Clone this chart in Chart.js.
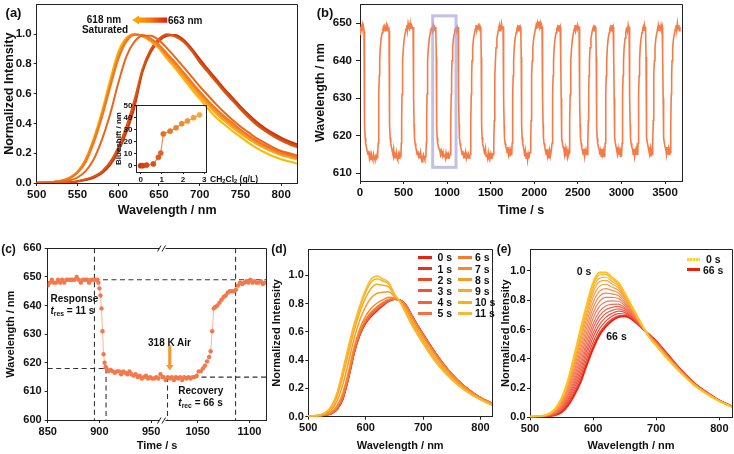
<!DOCTYPE html>
<html><head><meta charset="utf-8">
<script src="https://cdn.jsdelivr.net/npm/chart.js@4.4.1/dist/chart.umd.min.js"></script>
<style>
html,body{margin:0;padding:0;background:#fff;}
#page{position:relative;width:734px;height:454px;overflow:hidden;background:#fff;font-family:"Liberation Sans",Arial,sans-serif;font-weight:bold;color:#111;}
canvas{position:absolute;left:-30px;top:-30px;width:794px;height:514px;}
.t{position:absolute;white-space:nowrap;line-height:1;}
.t sub{font-size:68%;vertical-align:-0.25em;line-height:0;}
.sw{position:absolute;height:3px;}
</style></head><body><div id="page">
<canvas id="ca" width="794" height="514"></canvas>
<canvas id="cai" width="794" height="514"></canvas>
<canvas id="cb" width="794" height="514"></canvas>
<canvas id="cc" width="794" height="514"></canvas>
<canvas id="cd" width="794" height="514"></canvas>
<canvas id="ce" width="794" height="514"></canvas>
</div>
<script>
// ================= DATA =================
// (a) emission spectra, wavelength grid (nm)
const A_NM = [500,510,520,530,540,550,560,570,580,590,600,610,620,630,640,650,660,670,680,690,700,710,720,730,740,750,760,770,780,790,800,810,820];
const aOr1 = [0.002,0.002,0.004,0.008,0.017,0.037,0.080,0.160,0.290,0.460,0.670,0.850,0.950,0.990,0.990,0.960,0.905,0.845,0.780,0.715,0.650,0.590,0.530,0.475,0.425,0.380,0.340,0.300,0.270,0.240,0.215,0.200,0.185];
const aOr2 = [0.002,0.003,0.006,0.013,0.030,0.068,0.140,0.270,0.440,0.640,0.830,0.950,0.995,0.995,0.970,0.930,0.870,0.810,0.745,0.680,0.615,0.555,0.500,0.450,0.405,0.360,0.320,0.285,0.255,0.228,0.205,0.190,0.175];
const aOr3 = [0.002,0.003,0.006,0.014,0.032,0.072,0.150,0.285,0.455,0.655,0.845,0.960,1.000,0.990,0.962,0.920,0.860,0.800,0.735,0.670,0.605,0.545,0.490,0.440,0.395,0.352,0.313,0.278,0.248,0.222,0.200,0.185,0.170];
const aOr4 = [0.002,0.003,0.007,0.015,0.034,0.076,0.155,0.290,0.460,0.665,0.855,0.965,1.000,0.988,0.958,0.912,0.850,0.788,0.722,0.656,0.592,0.532,0.477,0.428,0.383,0.341,0.303,0.269,0.240,0.215,0.193,0.178,0.163];
const aOr5 = [0.002,0.003,0.007,0.015,0.034,0.075,0.155,0.290,0.460,0.665,0.860,0.970,1.000,0.985,0.952,0.905,0.842,0.778,0.712,0.646,0.582,0.522,0.467,0.418,0.373,0.332,0.295,0.262,0.233,0.208,0.187,0.172,0.158];
const aSat = [0.002,0.003,0.006,0.013,0.030,0.070,0.160,0.300,0.480,0.690,0.880,0.975,1.000,0.990,0.955,0.905,0.835,0.770,0.700,0.630,0.565,0.500,0.440,0.395,0.350,0.310,0.270,0.235,0.205,0.180,0.160,0.145,0.130];
const aDark1 = [0.001,0.001,0.002,0.003,0.005,0.010,0.020,0.035,0.065,0.120,0.210,0.340,0.510,0.750,0.880,0.955,0.990,0.995,0.965,0.905,0.835,0.765,0.700,0.635,0.575,0.515,0.460,0.410,0.370,0.335,0.305,0.280,0.260];
const aDark2 = [0.001,0.001,0.002,0.003,0.005,0.011,0.022,0.040,0.070,0.130,0.225,0.360,0.530,0.760,0.890,0.960,0.995,0.990,0.955,0.895,0.820,0.755,0.690,0.625,0.565,0.505,0.450,0.400,0.360,0.325,0.295,0.270,0.250];
const aDark3 = [0.001,0.001,0.002,0.003,0.006,0.012,0.025,0.045,0.078,0.140,0.240,0.380,0.560,0.770,0.900,0.970,1.000,0.985,0.950,0.890,0.810,0.745,0.680,0.615,0.555,0.495,0.440,0.390,0.350,0.315,0.285,0.260,0.240];
const A_TICKS_X = [500,550,600,650,700,750,800];
const A_TICKS_Y = [0,0.2,0.4,0.6,0.8,1.0];
const A_ARROW = [617, 660, 1.095]; // arrow from 663 nm to 618 nm (x-range, y level)
// (a) inset: blueshift vs CH2Cl2 concentration
const INSET_X = [0,0.1,0.28,0.6,0.84,0.95,1.07,1.39,1.67,1.94,2.21,2.5,2.78];
const INSET_Y = [0,0,0.5,1.4,7,10.5,26.5,28.8,31.6,35,37.3,40,42.4];
const INSET_TICKS_X = [0,1,2,3];
const INSET_TICKS_Y = [0,10,20,30,40,50];

// (b) cycling: [time s, wavelength nm]
const B_POINTS = [
[0,647],[3,649],[8,648],[14,649],[20,648.5],[27,649.5],[34,648],[40,649],
[43,649],[46,648],[49,641],[52,630],[55,623],[59,619.5],[66,618],[74,617],
[82,616],[92,615],[100,616],[108,614],[116,615],[124,613.5],[132,615],[140,614],[148,613.5],[156,615],[164,614],[172,613.5],[180,614.5],[188,614],[196,615],[201,614],
[205,615],[209,618],[213,624],[217,631],[221,636],[226,640],[233,643.5],[243,646],[255,647.5],
[263,648.5],[270,649],[278,648],[286,649],[294,648.5],[302,649.5],[310,648],[318,649],[325,648.5],
[330,649],[333,648],[336,641],[339,630],[342,623],[346,619.5],[353,618],[361,617],
[369,616],[378,615],[386,616.5],[394,614.5],[402,615],[410,614],[418,615.5],[426,614],[434,613.5],[442,615],[450,614],[458,615],[465,614.5],
[470,615],[474,618],[478,624],[482,631],[486,636],[491,640],[498,643.5],[508,646],[520,647.5],
[528,648.5],[536,649.5],[544,648],[552,650],[560,649],[568,648.5],[576,650],[584,648.5],[592,649.5],[600,649],[606,648.5],
[609,649],[612,648],[615,641],[618,630],[621,623],[625,619.5],[632,618],[640,617],
[648,616],[656,615],[664,616],[672,614.5],[680,615],[688,614],[696,615.5],[704,614],[712,613],[720,614.5],[728,615],[736,614],[744,613.5],[751,614.5],
[757,615],[761,618],[765,624],[769,631],[773,636],[778,640],[785,643.5],[795,646],[807,647.5],
[815,648.5],[823,649],[831,648],[839,649.5],[847,648.5],[855,649],[863,648],
[869,649],[872,648],[875,641],[878,630],[881,623],[885,619.5],[892,618],[900,617],
[908,616.5],[916,616],[924,615],[932,616],[940,615],[948,614.5],[956,615.5],[964,614.5],[972,615],[980,614],[988,615.5],[996,614.5],[1004,615],[1012,614],[1020,615],[1028,614.5],
[1035,615],[1039,618],[1043,624],[1047,631],[1051,636],[1056,640],[1063,643.5],[1073,646],[1085,647.5],
[1093,648.5],[1101,649],[1109,648],[1117,649],[1123,648.5],
[1125,649],[1128,648],[1131,641],[1134,630],[1137,623],[1141,619.5],[1148,618],[1156,617],
[1164,616],[1172,615],[1180,616],[1188,614.5],[1196,615],[1204,614],[1212,615.5],[1220,614],[1228,615],[1236,614],[1244,615],[1252,614],[1259,614.5],
[1265,615],[1269,618],[1273,624],[1277,631],[1281,636],[1286,640],[1293,643.5],[1303,646],[1315,647.5],
[1323,648.5],[1331,649.5],[1339,648],[1347,649],[1355,648.5],[1363,650],[1371,648.5],[1379,649],
[1385,649],[1388,648],[1391,641],[1394,630],[1397,623],[1401,619.5],[1408,618],[1416,617],
[1424,616],[1432,615],[1440,616.5],[1448,614.5],[1456,615],[1464,614],[1472,615.5],[1480,614],[1488,613.5],[1496,615],[1504,614],[1512,615.5],[1520,614.5],[1527,615],
[1533,615],[1537,618],[1541,624],[1545,631],[1549,636],[1554,640],[1561,643.5],[1571,646],[1583,647.5],
[1591,648.5],[1599,649.5],[1607,648],[1615,649],[1623,650],[1631,648.5],[1638,649],
[1642,649],[1645,648],[1648,641],[1651,630],[1654,623],[1658,619.5],[1665,618],[1673,617],
[1681,616.5],[1689,615.5],[1697,617],[1705,615],[1713,616],[1721,614.5],[1729,616],[1736,615],
[1742,615.5],[1746,618],[1750,624],[1754,631],[1758,636],[1763,640],[1770,643.5],[1780,646],[1792,647.5],
[1800,648.5],[1808,649],[1816,648],[1824,649.5],[1832,648.5],[1840,649],
[1844,649],[1847,648],[1850,641],[1853,630],[1856,623],[1860,619.5],[1867,618],[1875,617],
[1883,616],[1891,614.5],[1899,616],[1907,614],[1915,615.5],[1923,613.5],[1931,615],[1939,614],[1947,615.5],
[1955,615.5],[1959,618],[1963,624],[1967,631],[1971,636],[1976,640],[1983,643.5],[1993,646],[2005,647.5],
[2013,648.5],[2021,649.5],[2029,648.5],[2037,650],[2045,649],[2053,650.5],[2061,649],[2069,650],[2077,648.5],[2084,649.5],
[2089,649],[2092,648],[2095,641],[2098,630],[2101,623],[2105,619.5],[2112,618],[2120,617],
[2128,616],[2136,615],[2144,616.5],[2152,614.5],[2160,615.5],[2168,614],[2176,616],[2184,614.5],[2192,615.5],
[2200,615.5],[2204,618],[2208,624],[2212,631],[2216,636],[2221,640],[2228,643.5],[2238,646],[2250,647.5],
[2258,648.5],[2266,649],[2274,648],[2282,649.5],[2290,648.5],[2297,649],
[2300,649],[2303,648],[2306,641],[2309,630],[2312,623],[2316,619.5],[2323,618],[2331,617],
[2339,616.5],[2347,615],[2355,616.5],[2363,614.5],[2371,616],[2379,614.5],[2387,616],[2394,615],
[2400,615.5],[2404,618],[2408,624],[2412,631],[2416,636],[2421,640],[2428,643.5],[2438,646],[2450,647.5],
[2458,648.5],[2466,649.5],[2474,648],[2482,649],[2490,648.5],[2498,649.5],[2506,648.5],[2512,649],
[2514,649],[2517,648],[2520,641],[2523,630],[2526,623],[2530,619.5],[2537,618],[2545,617],
[2553,616],[2561,615],[2569,616.5],[2577,614.5],[2585,616],[2593,615],[2601,616],[2606,615],
[2612,615.5],[2616,618],[2620,624],[2624,631],[2628,636],[2633,640],[2640,643.5],[2650,646],[2662,647.5],
[2670,648.5],[2678,649],[2686,648],[2694,649.5],[2702,648.5],
[2705,649],[2708,648],[2711,641],[2714,630],[2717,623],[2721,619.5],[2728,618],[2736,617],
[2744,616.5],[2752,615],[2760,616],[2768,614.5],[2776,616.5],[2784,615],[2792,616],[2800,614.5],[2805,615.5],
[2810,615.5],[2814,618],[2818,624],[2822,631],[2826,636],[2831,640],[2838,643.5],[2848,646],[2860,647.5],
[2866,648.5],[2874,649],[2882,648],[2890,649.5],[2898,648.5],[2905,649],
[2908,649],[2911,648],[2914,641],[2917,630],[2920,623],[2924,619.5],[2931,618],[2939,617],
[2947,616],[2955,615],[2963,616.5],[2971,615],[2979,616],[2987,614.5],[2995,616],
[3003,615.5],[3007,618],[3011,624],[3015,631],[3019,636],[3024,640],[3031,643.5],[3041,646],[3050,647.5],
[3056,648.5],[3063,649],[3070,648],[3077,649.5],[3084,648.5],
[3088,649],[3091,648],[3094,641],[3097,630],[3100,623],[3104,619.5],[3111,618],[3119,617],
[3127,616.5],[3135,615],[3143,616.5],[3151,614.5],[3159,616],[3167,615],[3175,616.5],[3181,615],
[3187,615.5],[3191,618],[3195,624],[3199,631],[3203,636],[3208,640],[3215,643.5],[3225,646],[3236,647.5],
[3243,648.5],[3250,649],[3257,648],[3264,649.5],[3271,648.5],
[3276,649],[3279,648],[3282,641],[3285,630],[3288,623],[3292,619.5],[3299,618],[3307,617],
[3315,616],[3323,615],[3331,616.5],[3339,614.5],[3347,616],[3352,615],
[3357,615.5],[3361,618],[3365,624],[3369,631],[3373,636],[3378,640],[3385,643.5],[3395,646],[3407,647.5],
[3415,648.5],[3423,649.5],[3431,648],[3439,649],[3447,648.5],[3455,649.5],[3462,648.5],[3468,649],
[3470,649],[3473,648],[3476,641],[3479,630],[3482,623],[3486,619.5],[3493,618],[3501,617],
[3509,616.5],[3517,615],[3525,617],[3533,615],[3541,616.5],[3549,615],[3554,616],
[3560,615.5],[3564,618],[3568,624],[3572,631],[3576,636],[3581,640],[3588,643.5],[3598,646],[3610,647.5],
[3618,648.5],[3626,649.5],[3634,648],[3642,650],[3650,648.5],[3658,649.5],[3666,648],[3672,649]
];
const B_TICKS_X = [0,500,1000,1500,2000,2500,3000,3500];
const B_TICKS_Y = [610,620,630,640,650];
const B_BOX = [834, 1102, 611.6, 652]; // highlighted window: t0, t1, nm0, nm1

// (c) zoomed cycle, broken time axis
const C_T1 = [850,852,854,856,858,860,862,864,866,868,870,872,874,876,878,880,882,884,886,888,890,892,894,896,898,899,900,901,902,903,904,905,906,907,909,911,913,915,917,919,921,923,925,927,929,931,933,935,937,939,941,943,945,947,949,951,953,955,957,959,961];
const C_N1 = [647,648,649,648,648,649,648,649,648,649,649,649,649,649,650,649,648,649,649,649,648,649,649,649,649,648,646,643.5,639,631,623,620,618.5,618,617,617.5,617,616.5,617,617,616,617,616.5,616,617,616,615.5,616,615,615.5,614.5,615,615.5,614.5,615,614.5,614.5,615,614.5,616,615];
const C_T2 = [1017,1019,1021,1023,1025,1027,1029,1031,1033,1035,1037,1039,1041,1043,1045,1047,1049,1051,1053,1055,1057,1059,1061,1062.5,1064,1065.5,1067,1069,1071,1073,1075,1077,1079,1081,1083,1085,1087,1089,1091,1093,1095,1097,1099,1101,1103,1105,1107,1109,1111,1113,1115];
const C_N2 = [615,614,615,614.5,615,614,615,614.5,615,614,615,614.5,615,614.5,615,615,615.5,617,617,618,619,620.5,622,624,631,639,639.5,640,641,642,643,643.5,644.5,645,645,645,645.5,647,648,647.5,648,648.5,648,649,648,648.5,648,648,648.5,647.5,648];
const C_TICKS_X = [850,900,950,1050,1100];
const C_TICKS_Y = [600,610,620,630,640,650,660];
const C_BREAK = [961, 1016];       // omitted time interval on the axis
const C_RES = [895.2, 906.4];      // response start / end (11 s)
const C_REC = [1020.8, 1086.6];    // recovery start / end (66 s)
const C_LEVELS = [649, 618, 615];  // guide levels (nm)
const C_AIR_ARROW = [1023, 626, 617.3];

// (d) response spectra
const E_NM = [500,510,520,530,540,550,560,570,580,590,600,610,620,630,640,650,660,670,680,690,700,720,740,760,780,800,820];
const D_LABELS = ['0 s','1 s','2 s','3 s','4 s','5 s','6 s','7 s','8 s','9 s','10 s','11 s'];
const d00 = [0.003,0.004,0.006,0.012,0.020,0.050,0.120,0.270,0.450,0.580,0.660,0.710,0.750,0.785,0.815,0.830,0.825,0.790,0.720,0.650,0.585,0.460,0.350,0.260,0.190,0.135,0.095];
const d01 = [0.003,0.004,0.006,0.012,0.021,0.052,0.123,0.273,0.453,0.583,0.664,0.714,0.754,0.788,0.817,0.831,0.825,0.789,0.719,0.649,0.584,0.459,0.349,0.259,0.190,0.135,0.095];
const d02 = [0.003,0.004,0.006,0.013,0.022,0.054,0.126,0.277,0.456,0.586,0.667,0.718,0.757,0.791,0.819,0.831,0.825,0.788,0.718,0.648,0.583,0.458,0.349,0.259,0.189,0.135,0.095];
const d03 = [0.003,0.004,0.006,0.013,0.022,0.055,0.129,0.280,0.459,0.589,0.671,0.722,0.761,0.794,0.821,0.832,0.824,0.787,0.717,0.647,0.582,0.457,0.348,0.258,0.189,0.134,0.094];
const d04 = [0.003,0.004,0.006,0.013,0.023,0.057,0.133,0.284,0.463,0.593,0.674,0.726,0.765,0.796,0.823,0.832,0.824,0.786,0.716,0.646,0.581,0.456,0.347,0.258,0.189,0.134,0.094];
const d05 = [0.003,0.004,0.006,0.013,0.024,0.060,0.137,0.288,0.467,0.597,0.679,0.731,0.770,0.800,0.826,0.833,0.824,0.785,0.714,0.644,0.579,0.455,0.346,0.257,0.188,0.134,0.094];
const d06 = [0.003,0.004,0.007,0.014,0.027,0.064,0.145,0.298,0.475,0.605,0.689,0.742,0.779,0.808,0.831,0.835,0.823,0.783,0.712,0.642,0.577,0.452,0.344,0.256,0.187,0.133,0.093];
const d07 = [0.003,0.005,0.007,0.016,0.032,0.076,0.166,0.321,0.496,0.626,0.713,0.768,0.804,0.827,0.845,0.839,0.822,0.777,0.705,0.635,0.570,0.446,0.339,0.252,0.185,0.132,0.092];
const d08 = [0.004,0.006,0.009,0.021,0.048,0.110,0.225,0.385,0.555,0.685,0.780,0.843,0.873,0.880,0.883,0.850,0.818,0.760,0.685,0.615,0.550,0.428,0.325,0.243,0.178,0.128,0.088];
const d09 = [0.005,0.006,0.011,0.026,0.062,0.141,0.280,0.445,0.610,0.740,0.842,0.911,0.936,0.929,0.918,0.860,0.814,0.744,0.667,0.597,0.532,0.411,0.312,0.233,0.171,0.124,0.084];
const d10 = [0.005,0.007,0.012,0.029,0.071,0.160,0.313,0.482,0.643,0.773,0.881,0.954,0.975,0.960,0.939,0.867,0.811,0.735,0.656,0.586,0.521,0.400,0.304,0.228,0.167,0.121,0.081];
const d11 = [0.005,0.007,0.012,0.030,0.075,0.170,0.330,0.500,0.660,0.790,0.900,0.975,0.995,0.975,0.950,0.870,0.810,0.730,0.650,0.580,0.515,0.395,0.300,0.225,0.165,0.120,0.080];
const DE_TICKS_X = [500,600,700,800];
const DE_TICKS_Y = [0,0.2,0.4,0.6,0.8,1.0];

// (e) recovery spectra, 0 s ... 66 s
const e00 = [0.005,0.006,0.010,0.025,0.060,0.130,0.250,0.420,0.600,0.770,0.920,0.990,0.990,0.955,0.920,0.850,0.770,0.690,0.610,0.540,0.490,0.390,0.300,0.220,0.160,0.110,0.070];
const e01 = [0.005,0.006,0.010,0.024,0.058,0.126,0.243,0.409,0.586,0.754,0.902,0.973,0.975,0.943,0.911,0.844,0.766,0.688,0.610,0.541,0.491,0.391,0.301,0.221,0.160,0.110,0.070];
const e02 = [0.005,0.006,0.010,0.023,0.056,0.121,0.235,0.396,0.568,0.733,0.880,0.951,0.957,0.928,0.899,0.836,0.761,0.686,0.609,0.542,0.493,0.393,0.302,0.221,0.161,0.110,0.070];
const e03 = [0.005,0.006,0.009,0.022,0.053,0.116,0.225,0.380,0.546,0.709,0.853,0.926,0.935,0.911,0.885,0.826,0.756,0.683,0.609,0.543,0.495,0.395,0.303,0.222,0.162,0.111,0.071];
const e04 = [0.005,0.006,0.009,0.021,0.050,0.109,0.213,0.361,0.521,0.680,0.821,0.895,0.909,0.890,0.868,0.815,0.749,0.679,0.608,0.544,0.497,0.397,0.304,0.223,0.162,0.111,0.071];
const e05 = [0.004,0.005,0.009,0.020,0.047,0.102,0.199,0.339,0.492,0.647,0.785,0.861,0.879,0.867,0.850,0.802,0.742,0.675,0.607,0.546,0.499,0.399,0.306,0.225,0.163,0.112,0.072];
const e06 = [0.004,0.005,0.008,0.019,0.043,0.094,0.185,0.317,0.463,0.614,0.749,0.827,0.849,0.843,0.831,0.789,0.734,0.671,0.606,0.548,0.501,0.401,0.308,0.226,0.164,0.112,0.072];
const e07 = [0.004,0.005,0.008,0.017,0.039,0.086,0.172,0.296,0.434,0.581,0.713,0.792,0.820,0.819,0.812,0.776,0.726,0.667,0.605,0.549,0.504,0.404,0.309,0.227,0.165,0.112,0.072];
const e08 = [0.004,0.005,0.007,0.016,0.036,0.079,0.158,0.274,0.406,0.549,0.677,0.758,0.790,0.796,0.793,0.764,0.719,0.663,0.605,0.551,0.506,0.406,0.311,0.228,0.165,0.113,0.073];
const e09 = [0.004,0.005,0.007,0.014,0.032,0.071,0.145,0.253,0.377,0.516,0.641,0.723,0.761,0.772,0.774,0.751,0.711,0.659,0.604,0.552,0.509,0.409,0.312,0.229,0.166,0.113,0.073];
const e10 = [0.004,0.004,0.007,0.013,0.029,0.064,0.133,0.234,0.352,0.487,0.610,0.693,0.735,0.751,0.758,0.740,0.704,0.656,0.603,0.554,0.511,0.411,0.314,0.230,0.167,0.113,0.073];
const e11 = [0.003,0.004,0.006,0.012,0.026,0.058,0.121,0.215,0.326,0.458,0.578,0.663,0.709,0.731,0.741,0.728,0.698,0.652,0.602,0.555,0.513,0.413,0.315,0.231,0.168,0.114,0.074];
const e12 = [0.003,0.004,0.006,0.011,0.023,0.051,0.109,0.196,0.301,0.430,0.547,0.633,0.683,0.710,0.725,0.717,0.691,0.649,0.602,0.557,0.515,0.415,0.317,0.232,0.168,0.114,0.074];
const e13 = [0.003,0.004,0.006,0.010,0.020,0.045,0.097,0.177,0.276,0.401,0.515,0.603,0.657,0.690,0.709,0.706,0.685,0.645,0.601,0.558,0.517,0.417,0.318,0.234,0.169,0.115,0.075];
const e14 = [0.003,0.004,0.005,0.009,0.017,0.039,0.087,0.161,0.254,0.376,0.488,0.577,0.635,0.672,0.694,0.696,0.679,0.642,0.600,0.559,0.519,0.419,0.319,0.234,0.170,0.115,0.075];
const e15 = [0.003,0.004,0.005,0.008,0.015,0.035,0.080,0.150,0.240,0.360,0.470,0.560,0.620,0.660,0.685,0.690,0.675,0.640,0.600,0.560,0.520,0.420,0.320,0.235,0.170,0.115,0.075];
const E_LABELS = ['0 s','66 s'];

// ================= STYLE / LAYOUT =================
const FONT = '"Liberation Sans", Arial, sans-serif';
Chart.defaults.font.family = FONT;
Chart.defaults.font.weight = 'bold';
Chart.defaults.color = '#111';
Chart.defaults.animation = false;
Chart.defaults.responsive = false;
Chart.defaults.devicePixelRatio = 1;
Chart.defaults.events = [];
Chart.defaults.plugins.legend.display = false;
Chart.defaults.plugins.tooltip.enabled = false;

const OFF = 30, CW = 794, CH = 514;
const AX = '#222';
function pad(p, wy, hx) { return {left: p.l + OFF - wy, top: p.t + OFF, right: CW - (p.r + OFF), bottom: CH - (p.b + OFF) - hx}; }
function scale(o) {
  return {
    type: 'linear', position: o.pos, min: o.min, max: o.max,
    afterBuildTicks: s => { s.ticks = o.ticks.map(v => ({value: v})); },
    afterFit: s => { if (o.pos === 'bottom') s.height = o.size; else s.width = o.size; },
    grid: {display: true, drawOnChartArea: false, drawTicks: true, tickLength: o.tl, color: AX, lineWidth: 1},
    border: {display: true, color: AX, width: 1},
    ticks: {font: {size: o.fs, weight: 'bold', family: FONT}, color: '#111', padding: o.tp, maxRotation: 0, minRotation: 0, autoSkip: false, callback: o.fmt || (v => String(v))},
    title: {display: !!o.title, text: o.title || '', font: {size: o.tfs, weight: 'bold', family: FONT}, color: '#111', padding: 0}
  };
}
const al = v => Math.round(v - 0.5) + 0.5;
const framePlugin = { id: 'frame', afterDraw(c) {
  const a = c.chartArea, ctx = c.ctx;
  ctx.save(); ctx.strokeStyle = AX; ctx.lineWidth = 1; ctx.beginPath();
  ctx.moveTo(al(a.left), al(a.top)); ctx.lineTo(al(a.right), al(a.top)); ctx.lineTo(al(a.right), al(a.bottom));
  ctx.stroke(); ctx.restore();
}};
const toXY = (xs, ys) => xs.map((x, i) => ({x, y: ys[i]}));
const f1 = v => v.toFixed(1);

// ---------- (a) ----------
const PA = {l: 36.7, t: 4.5, r: 297.5, b: 183};
const A_SERIES = [[aOr1,'#e9661a'],[aOr2,'#f0781e'],[aOr3,'#f58a22'],[aOr4,'#f99c25'],[aOr5,'#fcab22'],[aSat,'#ffb800'],[aDark3,'#dc5412'],[aDark2,'#d2440f'],[aDark1,'#c5350c']];
const aArrow = { id: 'aArrow', afterDatasetsDraw(c) {
  const xs = c.scales.x, ys = c.scales.y, ctx = c.ctx;
  const x0 = xs.getPixelForValue(A_ARROW[0]), x1 = xs.getPixelForValue(A_ARROW[1]), y = ys.getPixelForValue(A_ARROW[2]);
  const g = ctx.createLinearGradient(x0, 0, x1, 0); g.addColorStop(0, '#ffb300'); g.addColorStop(0.5, '#f77a10'); g.addColorStop(1, '#e41c0c');
  ctx.save(); ctx.fillStyle = g; ctx.beginPath();
  ctx.moveTo(x0, y); ctx.lineTo(x0 + 7, y - 4.5); ctx.lineTo(x0 + 7, y - 2.6); ctx.lineTo(x1, y - 2.6); ctx.lineTo(x1, y + 2.6); ctx.lineTo(x0 + 7, y + 2.6); ctx.lineTo(x0 + 7, y + 4.5);
  ctx.closePath(); ctx.fill(); ctx.restore();
}};
new Chart(document.getElementById('ca'), {
  type: 'line',
  data: {datasets: A_SERIES.map(([v, col]) => ({data: toXY(A_NM, v), borderColor: col, borderWidth: 2, pointRadius: 0, cubicInterpolationMode: 'monotone', fill: false}))},
  options: {layout: {padding: pad(PA, 34.2, 35)},
    scales: {
      x: scale({pos: 'bottom', min: 500, max: 820, ticks: A_TICKS_X, tl: 3, tp: 2, fs: 11.5, title: 'Wavelength / nm', tfs: 12.5, size: 35}),
      y: scale({pos: 'left', min: 0, max: 1.2, ticks: A_TICKS_Y, tl: 3, tp: 2, fs: 11.5, fmt: f1, title: 'Normalized Intensity', tfs: 12.5, size: 34.2})
    }},
  plugins: [framePlugin, aArrow]
});
// inset
const PI = {l: 136, t: 105, r: 206.5, b: 172};
const insetColors = INSET_X.map((_, i) => { const f = i / (INSET_X.length - 1); const r = Math.round(208 + f * (247 - 208)), g = Math.round(52 + f * (168 - 52)), b = Math.round(14 + f * (58 - 14)); return `rgb(${r},${g},${b})`; });
new Chart(document.getElementById('cai'), {
  type: 'line',
  data: {datasets: [{data: toXY(INSET_X, INSET_Y), borderColor: '#f08a52', borderWidth: 1.2, pointRadius: 2.6, pointBackgroundColor: insetColors, pointBorderColor: insetColors, pointBorderWidth: 0.5, tension: 0}]},
  options: {layout: {padding: pad(PI, 22, 12)},
    scales: {
      x: scale({pos: 'bottom', min: -0.22, max: 3.11, ticks: INSET_TICKS_X, tl: 2, tp: 1, fs: 8, size: 12}),
      y: scale({pos: 'left', min: -5.3, max: 50.6, ticks: INSET_TICKS_Y, tl: 2, tp: 1.5, fs: 8, title: 'Blueshift / nm', tfs: 8, size: 22})
    }},
  plugins: [framePlugin]
});

// ---------- (b) ----------
const PB = {l: 360, t: 4.3, r: 682, b: 181};
const bBox = { id: 'bBox', afterDatasetsDraw(c) {
  const xs = c.scales.x, ys = c.scales.y, ctx = c.ctx;
  const x0 = xs.getPixelForValue(B_BOX[0]), x1 = xs.getPixelForValue(B_BOX[1]);
  const y0 = ys.getPixelForValue(B_BOX[2]), y1 = ys.getPixelForValue(B_BOX[3]);
  ctx.save(); ctx.strokeStyle = 'rgba(160,160,218,0.65)'; ctx.lineWidth = 3; ctx.strokeRect(x0, y1, x1 - x0, y0 - y1); ctx.restore();
}};
new Chart(document.getElementById('cb'), {
  type: 'line',
  data: {datasets: [{data: B_POINTS.map(p => ({x: p[0], y: p[1]})), borderColor: '#f57b47', borderWidth: 1.6, pointRadius: 0, tension: 0}]},
  options: {layout: {padding: pad(PB, 46.5, 37.5)},
    scales: {
      x: scale({pos: 'bottom', min: 0, max: 3695, ticks: B_TICKS_X, tl: 3, tp: 2, fs: 11.5, title: 'Time / s', tfs: 12.5, size: 37.5}),
      y: scale({pos: 'left', min: 607.95, max: 655.07, ticks: B_TICKS_Y, tl: 4, tp: 4, fs: 11.5, title: 'Wavelength / nm', tfs: 12.5, size: 46.5})
    }},
  plugins: [framePlugin, bBox]
});

// ---------- (c) ----------
const PC = {l: 47.7, t: 248.3, r: 266.5, b: 420};
const GAP = C_BREAK[1] - C_BREAK[0];
const cAxis = t => (t > C_BREAK[0] ? t - GAP : t);          // axis position of a time value
const cLabel = v => String(v > C_BREAK[0] ? v + GAP : v);    // tick label of an axis position
const cGuides = { id: 'cGuides', beforeDatasetsDraw(c) {
  const xs = c.scales.x, ys = c.scales.y, ctx = c.ctx, a = c.chartArea;
  const X = t => xs.getPixelForValue(cAxis(t)), Y = v => ys.getPixelForValue(v);
  ctx.save(); ctx.strokeStyle = '#333'; ctx.lineWidth = 1.1; ctx.setLineDash([5, 3.5]);
  const seg = (x0, y0, x1, y1) => { ctx.beginPath(); ctx.moveTo(x0, y0); ctx.lineTo(x1, y1); ctx.stroke(); };
  seg(X(C_RES[0]), Y(C_LEVELS[0]), a.right, Y(C_LEVELS[0]));
  seg(a.left, Y(C_LEVELS[1]), X(C_RES[1]), Y(C_LEVELS[1]));
  seg(X(C_REC[0]), Y(C_LEVELS[2]), a.right, Y(C_LEVELS[2]));
  seg(X(C_RES[0]), a.top, X(C_RES[0]), a.bottom);
  seg(X(C_RES[1]), Y(C_LEVELS[1]), X(C_RES[1]), a.bottom);
  seg(X(C_REC[0]), Y(C_LEVELS[2]), X(C_REC[0]), a.bottom);
  seg(X(C_REC[1]), a.top, X(C_REC[1]), a.bottom);
  ctx.restore();
}, afterDraw(c) {
  const xs = c.scales.x, ys = c.scales.y, ctx = c.ctx, a = c.chartArea;
  const px = xs.getPixelForValue(C_BREAK[0]);
  ctx.save();
  for (const y of [al(a.top), al(a.bottom)]) {
    ctx.fillStyle = '#fff'; ctx.fillRect(px - 3, y - 1.5, 6, 3);
    ctx.strokeStyle = AX; ctx.lineWidth = 1; ctx.beginPath();
    ctx.moveTo(px - 5, y + 3); ctx.lineTo(px - 1.5, y - 3); ctx.moveTo(px - 0.5, y + 3); ctx.lineTo(px + 3, y - 3); ctx.stroke();
  }
  // 318 K air arrow
  const ax = xs.getPixelForValue(cAxis(C_AIR_ARROW[0])), y0 = ys.getPixelForValue(C_AIR_ARROW[1]), y1 = ys.getPixelForValue(C_AIR_ARROW[2]);
  ctx.fillStyle = '#f39a38'; ctx.fillRect(ax - 1.6, y0, 3.2, y1 - y0 - 5);
  ctx.beginPath(); ctx.moveTo(ax - 3.8, y1 - 5.5); ctx.lineTo(ax + 3.8, y1 - 5.5); ctx.lineTo(ax, y1); ctx.closePath(); ctx.fill();
  ctx.restore();
}};
const cStyle = {borderColor: 'rgba(244,122,74,0.55)', borderWidth: 1, pointRadius: 2.2, pointBackgroundColor: '#f4784a', pointBorderWidth: 0, tension: 0};
new Chart(document.getElementById('cc'), {
  type: 'line',
  data: {datasets: [
    Object.assign({data: C_T1.map((t, i) => ({x: cAxis(t), y: C_N1[i]}))}, cStyle),
    Object.assign({data: C_T2.map((t, i) => ({x: cAxis(t), y: C_N2[i]}))}, cStyle)
  ]},
  options: {layout: {padding: pad(PC, 43.5, 32.1)},
    scales: {
      x: scale({pos: 'bottom', min: 850, max: cAxis(1116.5), ticks: C_TICKS_X.map(cAxis), tl: 3, tp: 2, fs: 11, fmt: cLabel, title: 'Time / s', tfs: 11, size: 32.1}),
      y: scale({pos: 'left', min: 600, max: 660, ticks: C_TICKS_Y, tl: 3, tp: 3, fs: 11, title: 'Wavelength / nm', tfs: 11, size: 43.5})
    }},
  plugins: [framePlugin, cGuides]
});

// ---------- (d) ----------
const PD = {l: 308.3, t: 249, r: 492, b: 416.7};
const D_SERIES = [d00, d01, d02, d03, d04, d05, d06, d07, d08, d09, d10, d11];
const D_COLORS = ['#e8230f','#eb2e14','#ed4526','#ef5532','#f0643a','#f2723e','#f47b32','#f68a2a','#f89b2e','#faa922','#fbb20c','#f9b83a'];
new Chart(document.getElementById('cd'), {
  type: 'line',
  data: {datasets: D_SERIES.map((v, i) => ({label: D_LABELS[i], data: toXY(E_NM, v), borderColor: D_COLORS[i], borderWidth: 1.5, pointRadius: 0, cubicInterpolationMode: 'monotone'})).reverse()},
  options: {layout: {padding: pad(PD, 37.9, 35.6)},
    scales: {
      x: scale({pos: 'bottom', min: 500, max: 820, ticks: DE_TICKS_X, tl: 3, tp: 2, fs: 11, title: 'Wavelength / nm', tfs: 11, size: 35.6}),
      y: scale({pos: 'left', min: 0, max: 1.186, ticks: DE_TICKS_Y, tl: 3, tp: 1.5, fs: 11, fmt: f1, title: 'Normalized Intensity', tfs: 11, size: 37.9})
    }},
  plugins: [framePlugin]
});

// ---------- (e) ----------
const PE = {l: 530, t: 249, r: 732, b: 417.3};
const E_SERIES = [e00, e01, e02, e03, e04, e05, e06, e07, e08, e09, e10, e11, e12, e13, e14, e15];
const E_COLORS = ['#ffc21c','#fbb630','#f9ad38','#f7a43f','#f69b45','#f5924b','#f48950','#f38054','#f27757','#f16e56','#f06450','#ef5a48','#ee4f3e','#ee4332','#ef3522','#f01e0a'];
new Chart(document.getElementById('ce'), {
  type: 'line',
  data: {datasets: E_SERIES.map((v, i) => ({data: toXY(E_NM, v), borderColor: E_COLORS[i], borderWidth: (i === 0 || i === E_SERIES.length - 1) ? 2 : 1.2, pointRadius: 0, cubicInterpolationMode: 'monotone'}))},
  options: {layout: {padding: pad(PE, 30.6, 35)},
    scales: {
      x: scale({pos: 'bottom', min: 500, max: 820, ticks: DE_TICKS_X, tl: 3, tp: 2, fs: 11, title: 'Wavelength / nm', tfs: 11, size: 35}),
      y: scale({pos: 'left', min: 0, max: 1.15, ticks: DE_TICKS_Y, tl: 3, tp: 1.5, fs: 11, fmt: f1, title: 'Normalized Intensity', tfs: 11, size: 30.6})
    }},
  plugins: [framePlugin]
});

// ================= TEXT / LEGENDS =================
const page = document.getElementById('page');
function addText(html, x, y, size, anchor) {
  const d = document.createElement('div'); d.className = 't'; d.innerHTML = html;
  d.style.fontSize = size + 'px'; d.style.left = x + 'px'; d.style.top = y + 'px';
  d.style.transform = anchor === 'l' ? 'translate(0,-50%)' : 'translate(-50%,-50%)';
  page.appendChild(d); return d;
}
function addSwatch(x0, x1, y, col, dashed) {
  const s = document.createElement('div'); s.className = 'sw';
  s.style.left = x0 + 'px'; s.style.width = (x1 - x0) + 'px'; s.style.top = (y - 1.5) + 'px';
  if (dashed) { s.style.background = 'repeating-linear-gradient(90deg,' + col + ' 0 2px, #ffe9a8 2px 3px)'; } else { s.style.background = col; }
  page.appendChild(s);
}
addText('(a)', 13.5, 12.3, 13);
addText('(b)', 325, 12.3, 13);
addText('(c)', 8.5, 249, 12);
addText('(d)', 279, 249, 12);
addText('(e)', 504, 249, 12);
addText('618 nm', 104, 20, 10);
addText('Saturated', 105, 30, 10);
addText('663 nm', 168, 20.7, 10, 'l');
addText('CH<sub>2</sub>Cl<sub>2</sub> (g/L)', 210, 179, 8.5, 'l');
addText('Response', 50.5, 299.3, 10, 'l');
addText('<i>t</i><sub>res</sub> = 11 s', 50.5, 311, 10, 'l');
addText('318 K Air', 169.5, 342.7, 10);
addText('Recovery', 178.3, 390.7, 10, 'l');
addText('<i>t</i><sub>rec</sub> = 66 s', 178.3, 402.5, 10, 'l');
addText('0 s', 584, 270.7, 10.5);
addText('66 s', 616.5, 336, 10.5);
// legend (d)
const LROW = [257.3, 268.5, 279.7, 290.9, 302.1, 313.3];
D_LABELS.forEach((lab, i) => {
  const col = i < 6 ? 0 : 1, r = i % 6;
  const sx = col ? 458 : 418;
  addSwatch(sx, sx + 14, LROW[r], D_COLORS[i]);
  addText(lab, col ? 475 : 437.5, LROW[r], 10.5, 'l');
});
// legend (e)
addSwatch(687, 700, 259, '#ffcf3a', true);
addText(E_LABELS[0], 706, 259, 10.5, 'l');
addSwatch(687, 700, 269.3, E_COLORS[E_COLORS.length - 1]);
addText(E_LABELS[1], 703, 269.8, 10.5, 'l');
</script></body></html>
